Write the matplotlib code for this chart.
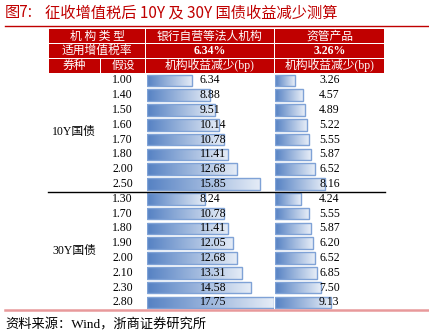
import numpy as np
import matplotlib.pyplot as plt
from matplotlib.colors import LinearSegmentedColormap

# 10Y and 30Y government bond yield reduction after VAT
bond_types = ["10Y国债", "30Y国债"]
yields_10y = ["1.00", "1.40", "1.50", "1.60", "1.70", "1.80", "2.00", "2.50"]
yields_30y = ["1.30", "1.70", "1.80", "1.90", "2.00", "2.10", "2.30", "2.80"]
bank_10y = [6.34, 8.88, 9.51, 10.14, 10.78, 11.41, 12.68, 15.85]
bank_30y = [8.24, 10.78, 11.41, 12.05, 12.68, 13.31, 14.58, 17.75]
asset_10y = [3.26, 4.57, 4.89, 5.22, 5.55, 5.87, 6.52, 8.16]
asset_30y = [4.24, 5.55, 5.87, 6.20, 6.52, 6.85, 7.50, 9.13]
tax_rates = ["6.34%", "3.26%"]
inst_types = ["银行自营等法人机构", "资管产品"]

hyp = yields_10y + yields_30y
bank = bank_10y + bank_30y
asset = asset_10y + asset_30y
n = len(hyp)
bar_max = max(bank)

W, H = 429, 334
RED = "#C00000"
CJK = ["Liberation Serif", "Noto Sans CJK SC"]
HDR = ["Noto Sans CJK SC", "Liberation Serif"]

fig = plt.figure(figsize=(W / 100, H / 100), dpi=100)
ax = fig.add_axes([0, 0, 1, 1])
ax.set_xlim(0, W)
ax.set_ylim(H, 0)
ax.axis("off")
ax.set_zorder(10)  # text layer sits above the bar axes

# title and rules
ax.text(5, 13, "图7:", color=RED, fontsize=11, family=HDR, va="center")
ax.text(45, 13, "征收增值税后 10Y 及 30Y 国债收益减少测算", color=RED,
        fontsize=11, family=HDR, va="center")
ax.plot([5, W], [25.5, 25.5], color=RED, lw=1)

# header cells
def cell(x0, x1, y0, y1, txt, fs=8.5, fam=HDR, weight="normal"):
    ax.add_patch(plt.Rectangle((x0, y0), x1 - x0, y1 - y0, color=RED, lw=0))
    ax.text((x0 + x1) / 2, (y0 + y1) / 2, txt, color="white", fontsize=fs,
            family=fam, ha="center", va="center", weight=weight)

cols = [(49, 145), (146, 273.5), (275, 384)]
rows = [(29, 43), (44, 57.5), (58.5, 72.5)]
cell(*cols[0], *rows[0], "机 构 类 型")
cell(*cols[0], *rows[1], "适用增值税率")
cell(49, 100, *rows[2], "券种")
cell(101, 145, *rows[2], "假设")
for c, name, rate in zip(cols[1:], inst_types, tax_rates):
    cell(*c, *rows[0], name)
    cell(*c, *rows[1], rate, fs=8.5, fam=CJK, weight="bold")
    cell(*c, *rows[2], "机构收益减少(bp)", fam=CJK)

# body rows
top, pitch = 73, 14.8
for i, h in enumerate(hyp):
    yc = top + (i + 0.5) * pitch
    ax.text(122.5, yc, h, fontsize=8.5, family=CJK, ha="center", va="center")
for k, name in enumerate(bond_types):
    ax.text(74, top + (4 + 8 * k) * pitch, name, fontsize=8.5, family=CJK,
            ha="center", va="center")
ax.plot([48, 385], [top + 8 * pitch + 1, top + 8 * pitch + 1], color="black", lw=1)
ax.plot([5, W], [309.5, 309.5], color="#E8999B", lw=1.8)

# gradient data bars
cmap = LinearSegmentedColormap.from_list("bar", ["#5581C3", "#E6EDF7"])
grad = np.linspace(0, 1, 256).reshape(1, -1)

def bar_column(x0, x1, vals, text_x):
    bx = fig.add_axes([x0 / W, 1 - (top + n * pitch) / H, (x1 - x0) / W, n * pitch / H])
    bx.axis("off")
    bars = bx.barh(np.arange(n) + 0.5, vals, height=0.78, color="none",
                   edgecolor="#7FA2D6", lw=1.0, zorder=3)
    for b in bars:
        x, y = b.get_x(), b.get_y()
        im = bx.imshow(grad, cmap=cmap, aspect="auto", zorder=2,
                       extent=[x, x + b.get_width(), y + b.get_height(), y])
        im.set_clip_path(b)
    bx.set_xlim(0, bar_max)
    bx.set_ylim(n, 0)
    for i, v in enumerate(vals):
        ax.text(text_x, top + (i + 0.5) * pitch, f"{v:.2f}", fontsize=8.5,
                family=CJK, ha="left", va="center")

bar_column(146.5, 273.5, bank, 199.5)
bar_column(275, 383.5, asset, 319)

# source note
ax.text(5, 325, "资料来源：Wind，浙商证券研究所", fontsize=9.5, family=CJK,
        va="center")

fig.savefig("out.png", dpi=100)
